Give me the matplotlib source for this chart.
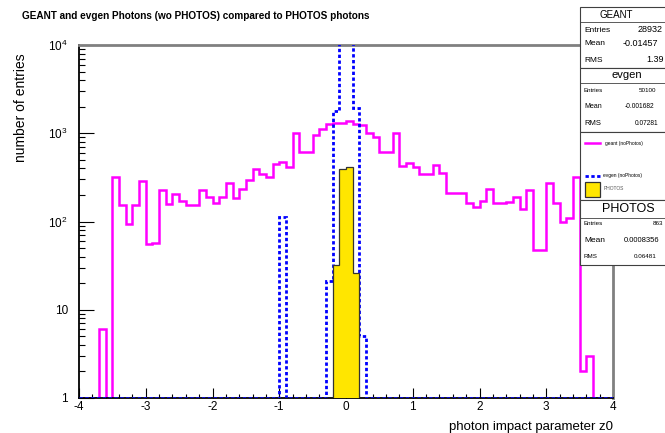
import numpy as np
import matplotlib.pyplot as plt
from matplotlib.patches import Rectangle
from matplotlib.ticker import LogLocator, FixedLocator, MultipleLocator, NullFormatter

plt.rcParams['font.family'] = ['Liberation Sans', 'DejaVu Sans']
plt.rcParams['mathtext.fontset'] = 'custom'
plt.rcParams['mathtext.rm'] = 'Liberation Sans'
plt.rcParams['axes.unicode_minus'] = False

# 80 bins of width 0.1 from -4 to 4
edges = np.linspace(-4, 4, 81)

geant = [0, 0, 0, 6, 0, 316, 155, 93, 152, 288,
         55, 57, 228, 158, 203, 171, 154, 152, 228, 188,
         163, 188, 271, 183, 232, 295, 394, 345, 316, 448,
         472, 411, 1014, 613, 613, 955, 1120, 1274, 1300, 1300,
         1377, 1274, 1241, 1014, 900, 609, 609, 1014, 425, 456,
         418, 345, 345, 437, 352, 212, 212, 212, 163, 147,
         172, 232, 161, 161, 168, 191, 137, 228, 48, 48,
         271, 161, 100, 109, 322, 2, 3, 0, 0, 0]

evgen = np.zeros(80)
evgen[30] = 113
evgen[37] = 21
evgen[38] = 1800
evgen[39] = 23100
evgen[40] = 23150
evgen[41] = 1916
evgen[42] = 5

photos = np.zeros(80)
photos[38] = 32
photos[39] = 395
photos[40] = 410
photos[41] = 26

fig = plt.figure(figsize=(6.65, 4.33), dpi=100)
ax = fig.add_axes([79/665, 35/433, 534/665, 353/433])

# empty bins sit on the lower edge of the log axis
ymin = 1
ax.stairs(np.clip(geant, ymin, None), edges, baseline=ymin,
          color='#ff00ff', lw=1.8, zorder=2)
ax.stairs(np.clip(evgen, ymin, None), edges, baseline=ymin,
          color='#0000ff', lw=2, linestyle=(0, (1.2, 0.9)), zorder=3)
ax.stairs(np.clip(photos, ymin, None), edges, baseline=ymin, fill=True,
          facecolor='#ffe600', edgecolor='#333333', lw=0.9, zorder=4)

ax.set_yscale('log')
ax.set_xlim(-4, 4)
ax.set_ylim(1, 1e4)

ax.xaxis.set_major_locator(MultipleLocator(1))
ax.xaxis.set_minor_locator(MultipleLocator(0.2))
ax.yaxis.set_major_locator(FixedLocator([1, 10, 100, 1000, 10000]))
ax.set_yticklabels(['1', '10', r'$10^{2}$', r'$10^{3}$', r'$10^{4}$'])
ax.yaxis.set_minor_locator(LogLocator(base=10, subs=np.arange(2, 10)))
ax.yaxis.set_minor_formatter(NullFormatter())

ax.tick_params(axis='both', which='both', direction='in', labelsize=8.5,
               top=False, right=False)
ax.tick_params(axis='y', which='major', length=10.8, width=0.8, pad=8)
ax.tick_params(axis='y', which='minor', length=4.3, width=0.8)
ax.tick_params(axis='x', which='major', length=7.2, width=0.8, pad=2)
ax.tick_params(axis='x', which='minor', length=3.2, width=0.8)

for side in ['left', 'bottom']:
    ax.spines[side].set_color('black')
    ax.spines[side].set_linewidth(1.3)
for side in ['top', 'right']:
    ax.spines[side].set_color('#808080')
    ax.spines[side].set_linewidth(2)

ax.set_xlabel('photon impact parameter z0', fontsize=9.5, loc='right')
ax.xaxis.set_label_coords(1.0, -0.065)
ax.set_ylabel('number of entries', fontsize=10, loc='top')
ax.yaxis.set_label_coords(-0.095, 0.975)

fig.text(22/665, 1 - 16/433, 'GEANT and evgen Photons (wo PHOTOS) compared to PHOTOS photons',
         fontsize=7.2, fontweight='bold', va='center', ha='left')

# stats boxes and legend, drawn in pixel coordinates
ov = fig.add_axes([0, 0, 1, 1], zorder=10)
ov.set_xlim(0, 665)
ov.set_ylim(433, 0)
ov.axis('off')
ov.patch.set_alpha(0)

box_ec = '#404040'
for y0, y1 in [(6.7, 68.3), (68.3, 131.7), (131.7, 200), (200, 265)]:
    ov.add_patch(Rectangle((580, y0), 120, y1 - y0, facecolor='white',
                           edgecolor=box_ec, lw=0.8, clip_on=False))
for yl in [21.7, 82.7, 218.3]:
    ov.plot([580, 700], [yl, yl], color=box_ec, lw=0.6)

ov.text(616, 14.5, 'GEANT', fontsize=7, ha='center', va='center')
ov.text(584, 30, 'Entries', fontsize=6, va='center')
ov.text(637.7, 30, '28932', fontsize=6.5, va='center')
ov.text(584, 43.3, 'Mean', fontsize=6, va='center')
ov.text(622.7, 43.3, '-0.01457', fontsize=6.5, va='center')
ov.text(584, 60, 'RMS', fontsize=6, va='center')
ov.text(646, 60, '1.39', fontsize=6.5, va='center')

ov.text(627, 75.5, 'evgen', fontsize=8, ha='center', va='center')
ov.text(584, 90, 'Entries', fontsize=4.5, va='center')
ov.text(639, 90, '50100', fontsize=4.5, va='center')
ov.text(584, 106.7, 'Mean', fontsize=5, va='center')
ov.text(624.3, 106.7, '-0.001682', fontsize=4.8, va='center')
ov.text(584, 123.3, 'RMS', fontsize=5.5, va='center')
ov.text(634.3, 123.3, '0.07281', fontsize=4.8, va='center')

ov.plot([585, 600], [143.3, 143.3], color='#ff00ff', lw=1.8)
ov.text(605, 143.3, 'geant (noPhotos)', fontsize=3.5, va='center')
ov.plot([585, 600], [176, 176], color='#0000ff', lw=2, linestyle=(0, (1.2, 0.9)))
ov.text(603, 176, 'evgen (noPhotos)', fontsize=3.5, va='center')
ov.add_patch(Rectangle((585, 181.7), 15, 15, facecolor='#ffe600',
                       edgecolor='#333333', lw=0.9))
ov.text(604, 189, 'PHOTOS', fontsize=3.5, va='center', color='#555555')

ov.text(628, 208.5, 'PHOTOS', fontsize=9, ha='center', va='center')
ov.text(584, 223.3, 'Entries', fontsize=4.5, va='center')
ov.text(653, 223.3, '863', fontsize=4.5, va='center')
ov.text(584, 240, 'Mean', fontsize=6, va='center')
ov.text(624, 240, '0.0008356', fontsize=5.5, va='center')
ov.text(584, 256.7, 'RMS', fontsize=4.5, va='center')
ov.text(634, 256.7, '0.06481', fontsize=4.5, va='center')

fig.savefig('out.png', dpi=100)
